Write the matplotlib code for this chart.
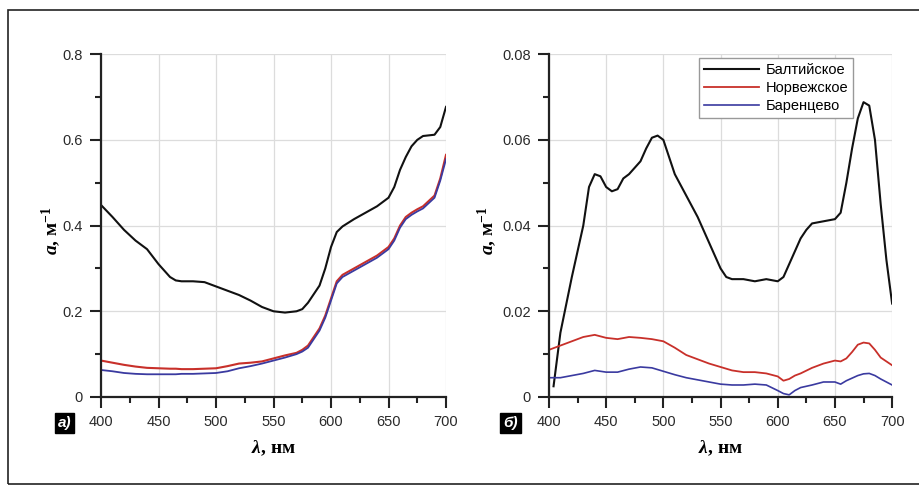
import matplotlib
matplotlib.use("Agg")
import matplotlib.pyplot as plt
from matplotlib.patches import Rectangle
from matplotlib.ticker import MultipleLocator, FuncFormatter

plt.rcParams["font.family"] = ["Liberation Sans", "DejaVu Sans"]
plt.rcParams["mathtext.fontset"] = "custom"
plt.rcParams["mathtext.it"] = "Liberation Serif:italic:bold"
plt.rcParams["mathtext.rm"] = "Liberation Serif:bold"

labels = ["Балтийское", "Норвежское", "Баренцево"]
colors = ["#111111", "#c8302a", "#3a3aa0"]

# panel a) total absorption
wl_a = [400, 410, 420, 430, 440, 450, 460, 465, 470, 480, 490, 500, 510, 520, 530,
        540, 550, 560, 570, 575, 580, 590, 595, 600, 605, 610, 620, 630, 640, 650,
        655, 660, 665, 670, 675, 680, 690, 695, 700]
balt_a = [0.448, 0.42, 0.39, 0.365, 0.345, 0.31, 0.28, 0.272, 0.27, 0.27, 0.268, 0.258,
          0.248, 0.238, 0.225, 0.21, 0.2, 0.197, 0.2, 0.205, 0.22, 0.26, 0.3, 0.35, 0.385,
          0.398, 0.415, 0.43, 0.445, 0.465, 0.49, 0.53, 0.56, 0.585, 0.6, 0.609, 0.612,
          0.63, 0.677]
norw_a = [0.085, 0.08, 0.075, 0.071, 0.068, 0.067, 0.066, 0.066, 0.065, 0.065, 0.066,
          0.067, 0.072, 0.078, 0.08, 0.083, 0.09, 0.097, 0.103, 0.11, 0.12, 0.16, 0.19,
          0.23, 0.27, 0.285, 0.3, 0.315, 0.33, 0.35, 0.37, 0.4, 0.42, 0.43, 0.438, 0.445,
          0.47, 0.51, 0.565]
bar_a = [0.063, 0.06, 0.056, 0.054, 0.053, 0.053, 0.053, 0.053, 0.054, 0.054, 0.055,
         0.056, 0.06, 0.067, 0.072, 0.078, 0.085, 0.092, 0.1, 0.106, 0.115, 0.155, 0.185,
         0.225, 0.265, 0.28, 0.295, 0.31, 0.325, 0.345, 0.365, 0.395, 0.415, 0.425, 0.433,
         0.44, 0.465, 0.505, 0.555]

# panel б) dissolved / particulate absorption
wl_b = [404, 410, 420, 430, 435, 440, 445, 450, 455, 460, 465, 470, 480, 485, 490, 495,
        500, 505, 510, 520, 530, 540, 550, 555, 560, 570, 580, 590, 600, 605, 610, 615,
        620, 625, 630, 640, 650, 655, 660, 665, 670, 675, 680, 685, 690, 695, 700]
balt_b = [0.0025, 0.015, 0.028, 0.04, 0.049, 0.052, 0.0515, 0.049, 0.048, 0.0485, 0.051,
          0.052, 0.055, 0.058, 0.0605, 0.061, 0.06, 0.056, 0.052, 0.047, 0.042, 0.036,
          0.03, 0.028, 0.0275, 0.0275, 0.027, 0.0275, 0.027, 0.028, 0.031, 0.034, 0.037,
          0.039, 0.0405, 0.041, 0.0415, 0.043, 0.05, 0.058, 0.065, 0.0688, 0.068, 0.06,
          0.045, 0.032, 0.0218]
wl_c = [400, 410, 420, 430, 440, 450, 460, 470, 480, 490, 500, 510, 520, 530, 540, 550,
        560, 570, 580, 590, 600, 605, 610, 615, 620, 630, 640, 650, 655, 660, 665, 670,
        675, 680, 685, 690, 700]
norw_b = [0.011, 0.012, 0.013, 0.014, 0.0145, 0.0138, 0.0135, 0.014, 0.0138, 0.0135,
          0.013, 0.0115, 0.0098, 0.0088, 0.0078, 0.007, 0.0062, 0.0058, 0.0058, 0.0055,
          0.0048, 0.0038, 0.0042, 0.005, 0.0055, 0.0068, 0.0078, 0.0085, 0.0083, 0.009,
          0.0105, 0.0122, 0.0127, 0.0125, 0.011, 0.0092, 0.0074]
bar_b = [0.0045, 0.0045, 0.005, 0.0055, 0.0062, 0.0058, 0.0058, 0.0065, 0.007, 0.0068,
         0.006, 0.0052, 0.0045, 0.004, 0.0035, 0.003, 0.0028, 0.0028, 0.003, 0.0028,
         0.0015, 0.0008, 0.0005, 0.0015, 0.0022, 0.0028, 0.0035, 0.0035, 0.003, 0.0038,
         0.0044, 0.005, 0.0054, 0.0055, 0.005, 0.0042, 0.0028]

fig = plt.figure(figsize=(9.2, 4.88), dpi=100)

# outer frame
fig.patches.append(Rectangle((0.0087, 0.008), 1.05, 0.9715, transform=fig.transFigure,
                             fill=False, edgecolor="#222222", linewidth=1.2))

ax1 = fig.add_axes([0.1098, 0.1865, 0.375, 0.7025])
ax2 = fig.add_axes([0.5967, 0.1865, 0.373, 0.7025])


def zero_fmt(fmt):
    return FuncFormatter(lambda v, p: "0" if abs(v) < 1e-12 else format(v, fmt))


def style(ax, ymax, ystep, fmt, ylab_x):
    ax.set_xlim(400, 700)
    ax.set_ylim(0, ymax)
    ax.xaxis.set_major_locator(MultipleLocator(50))
    ax.xaxis.set_minor_locator(MultipleLocator(25))
    ax.yaxis.set_major_locator(MultipleLocator(ystep))
    ax.yaxis.set_minor_locator(MultipleLocator(ystep / 2))
    ax.yaxis.set_major_formatter(zero_fmt(fmt))
    ax.grid(True, which="major", color="#dcdcdc", linewidth=0.9)
    ax.set_axisbelow(True)
    for s in ["top", "right"]:
        ax.spines[s].set_visible(False)
    for s in ["left", "bottom"]:
        ax.spines[s].set_linewidth(1.6)
        ax.spines[s].set_color("#222222")
    ax.tick_params(which="major", direction="out", length=8, width=1.5,
                   labelsize=10.5, labelcolor="#2a2a2a", color="#222222", pad=5)
    ax.tick_params(which="minor", direction="out", length=4.5, width=1.5, color="#222222")
    ax.set_xlabel(r"$\lambda$, нм", family="Liberation Serif", weight="bold",
                  fontsize=14, labelpad=7)
    ax.set_ylabel(r"$a$, м$^{-1}$", family="Liberation Serif", weight="bold",
                  fontsize=14)
    ax.yaxis.set_label_coords(ylab_x, 0.485)


ax1.plot(wl_a, balt_a, color=colors[0], lw=1.5)
ax1.plot(wl_a, norw_a, color=colors[1], lw=1.5)
ax1.plot(wl_a, bar_a, color=colors[2], lw=1.3)
style(ax1, 0.8, 0.2, ".1f", -0.11)

ax2.plot(wl_b, balt_b, color=colors[0], lw=1.5, label=labels[0])
ax2.plot(wl_c, norw_b, color=colors[1], lw=1.3, label=labels[1])
ax2.plot(wl_c, bar_b, color=colors[2], lw=1.2, label=labels[2])
style(ax2, 0.08, 0.02, ".2f", -0.146)
leg = ax2.legend(loc="upper right", bbox_to_anchor=(0.886, 0.988), fontsize=10.5,
                 handlelength=3.8, fancybox=False, framealpha=1, borderpad=0.35,
                 labelspacing=0.25, handletextpad=0.4, borderaxespad=0)
leg.get_frame().set_edgecolor("#999999")

for xf, txt in [(0.07, "а)"), (0.555, "б)")]:
    fig.text(xf, 0.133, txt, color="white", fontsize=11, style="italic", weight="bold",
             ha="center", va="center",
             bbox=dict(boxstyle="square,pad=0.2", facecolor="black", edgecolor="black"))

fig.savefig("out.png", dpi=100)
